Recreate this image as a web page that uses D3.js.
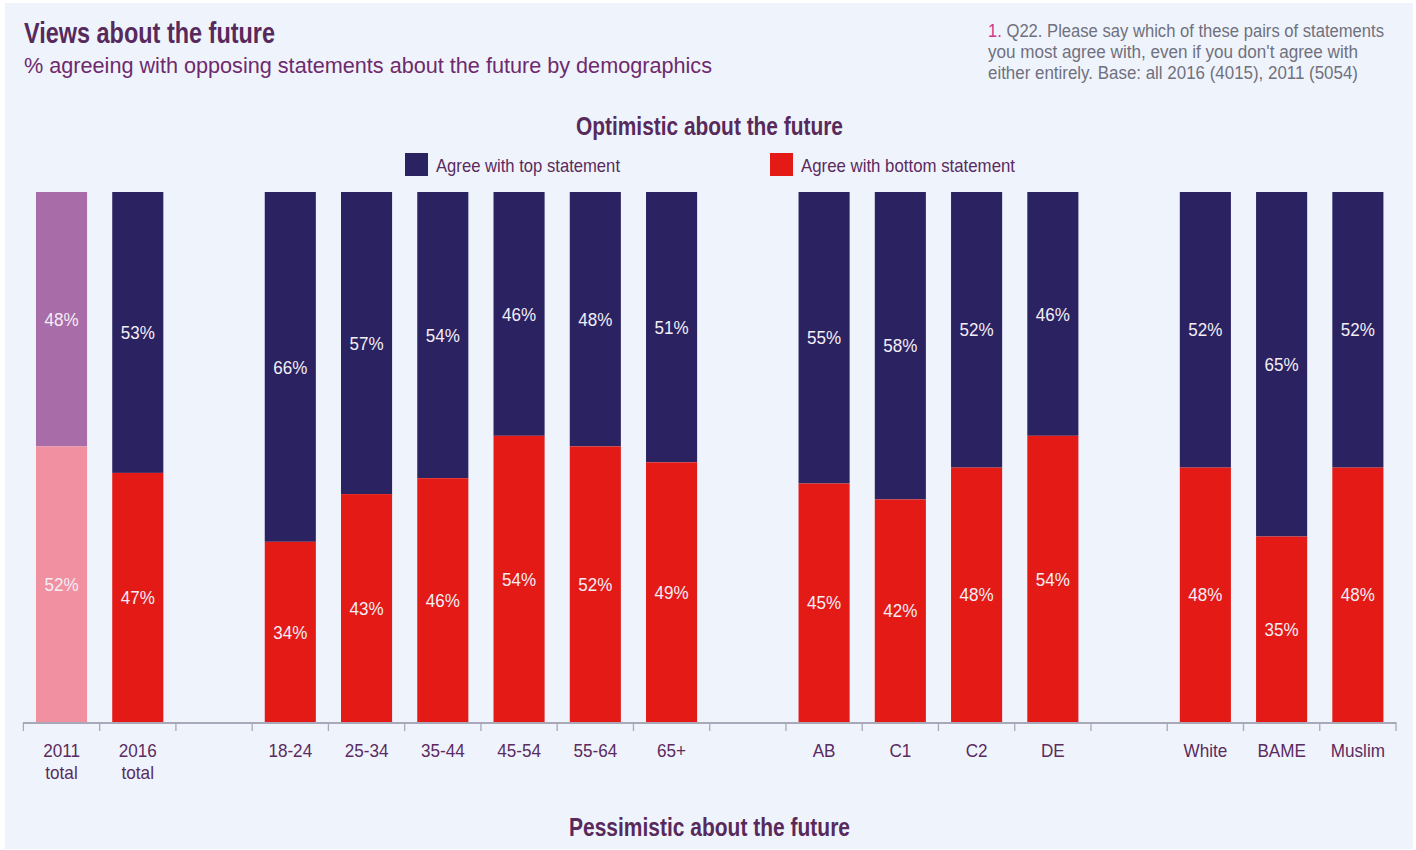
<!DOCTYPE html>
<html>
<head>
<meta charset="utf-8">
<script src="https://cdn.jsdelivr.net/npm/d3@7"></script>
<style>
  html, body { margin: 0; padding: 0; background: #ffffff; }
  svg { display: block; font-family: "Liberation Sans", Arial, sans-serif; }
</style>
</head>
<body>
<svg id="chart" width="1416" height="850"></svg>
<script>
// categories along the axis ('gap' = empty slot)
const categories = ['2011 total', '2016 total', 'gap1', '18-24', '25-34', '35-44', '45-54', '55-64', '65+',
  'gap2', 'AB', 'C1', 'C2', 'DE', 'gap3', 'White', 'BAME', 'Muslim'];
const topValues = [48, 53, null, 66, 57, 54, 46, 48, 51, null, 55, 58, 52, 46, null, 52, 65, 52];
const bottomValues = [52, 47, null, 34, 43, 46, 54, 52, 49, null, 45, 42, 48, 54, null, 48, 35, 48];
const seriesNames = ['Agree with top statement', 'Agree with bottom statement'];
const footnote = ["Q22. Please say which of these pairs of statements",
  "you  most agree with, even if you don't agree with",
  "either entirely. Base: all 2016 (4015), 2011 (5054)"];

const colors = { top: '#2b2261', bottom: '#e31a16', top2011: '#a86ca8', bottom2011: '#f090a0' };
const textPurple = '#5b2a5f';

const svg = d3.select('#chart');
const height = 850;
const margin = { top: 192, bottom: 128, left: 23.4, right: 20 };

// squeeze a text to a width (the original uses a condensed face)
function fit(sel, w) {
  sel.attr('textLength', w).attr('lengthAdjust', 'spacingAndGlyphs');
  return sel;
}
function condense(sel, f) {
  sel.each(function () {
    const len = this.getComputedTextLength();
    d3.select(this).attr('textLength', len * f).attr('lengthAdjust', 'spacingAndGlyphs');
  });
  return sel;
}

svg.append('rect').attr('x', 5).attr('y', 3).attr('width', 1408).attr('height', 846).attr('fill', '#eff4fc');

const data = categories.map((c, i) => ({ cat: c, top: topValues[i], bottom: bottomValues[i] }));

const x = d3.scaleBand()
  .domain(categories)
  .range([margin.left, 1396])
  .paddingInner(0.33)
  .paddingOuter(0.165);

const y = d3.scaleLinear().domain([0, 100]).range([height - margin.bottom, margin.top]);

// titles
fit(svg.append('text').attr('x', 24).attr('y', 43)
  .attr('font-size', 29).attr('font-weight', 'bold').attr('fill', '#582a5c')
  .text('Views about the future'), 251);
fit(svg.append('text').attr('x', 24).attr('y', 73)
  .attr('font-size', 22.5).attr('fill', '#6e2a6c')
  .text('% agreeing with opposing statements about the future by demographics'), 688);

const fn = svg.append('g').attr('font-size', 17.5).attr('fill', '#70707e');
const fnWidths = [396, 370, 370];
footnote.forEach((line, i) => {
  const t = fn.append('text').attr('x', 988).attr('y', 37 + i * 21);
  if (i === 0) t.append('tspan').attr('fill', '#d2358c').text('1. ');
  t.append('tspan').text(line);
  fit(t, fnWidths[i]);
});

fit(svg.append('text').attr('x', 576).attr('y', 135)
  .attr('font-size', 25).attr('font-weight', 'bold').attr('fill', '#582a5c')
  .text('Optimistic about the future'), 267);
fit(svg.append('text').attr('x', 569).attr('y', 836)
  .attr('font-size', 25).attr('font-weight', 'bold').attr('fill', '#582a5c')
  .text('Pessimistic about the future'), 281);

// legend
const legendX = [405, 770];
const legendW = [184, 214];
const legend = svg.append('g').selectAll('g')
  .data(seriesNames)
  .enter()
  .append('g')
  .attr('transform', (d, i) => `translate(${legendX[i]},153)`);
legend.append('rect').attr('width', 23).attr('height', 23)
  .attr('fill', (d, i) => i === 0 ? colors.top : colors.bottom);
legend.append('text').attr('x', 31).attr('y', 18.5)
  .attr('font-size', 19).attr('fill', textPurple).text(d => d)
  .attr('textLength', (d, i) => legendW[i]).attr('lengthAdjust', 'spacingAndGlyphs');

// bars
const bars = data.filter(d => d.top !== null);
const g = svg.append('g');
bars.forEach(d => {
  const is2011 = d.cat === '2011 total';
  g.append('rect')
    .attr('x', x(d.cat)).attr('width', x.bandwidth())
    .attr('y', y(100)).attr('height', y(d.bottom) - y(100))
    .attr('fill', is2011 ? colors.top2011 : colors.top);
  g.append('rect')
    .attr('x', x(d.cat)).attr('width', x.bandwidth())
    .attr('y', y(d.bottom)).attr('height', y(0) - y(d.bottom))
    .attr('fill', is2011 ? colors.bottom2011 : colors.bottom);
  [[(y(100) + y(d.bottom)) / 2, d.top], [(y(d.bottom) + y(0)) / 2, d.bottom]].forEach(([cy, v]) => {
    condense(g.append('text')
      .attr('x', x(d.cat) + x.bandwidth() / 2)
      .attr('y', cy)
      .attr('dy', '0.36em').attr('text-anchor', 'middle')
      .attr('font-size', 18.5).attr('fill', '#f4eef6')
      .text(v + '%'), 0.92);
  });
});

// axis
const axisY = y(0);
const step = x.step();
const tickXs = categories.map(c => x(c) - step * x.paddingInner() / 2);
tickXs.push(x(categories[categories.length - 1]) + x.bandwidth() + step * x.paddingInner() / 2);
const axis = svg.append('g').attr('stroke', '#a8a8b8');
axis.append('line').attr('x1', tickXs[0]).attr('x2', tickXs[tickXs.length - 1])
  .attr('y1', axisY + 1).attr('y2', axisY + 1).attr('stroke-width', 2);
axis.selectAll('line.tick').data(tickXs).enter().append('line')
  .attr('class', 'tick')
  .attr('x1', d => d).attr('x2', d => d)
  .attr('y1', axisY).attr('y2', axisY + 9).attr('stroke-width', 1.3);

const labels = svg.append('g').attr('font-size', 19).attr('fill', textPurple).attr('text-anchor', 'middle');
categories.filter(c => !c.startsWith('gap')).forEach(c => {
  c.split(' ').forEach((w, i) => {
    condense(labels.append('text')
      .attr('x', x(c) + x.bandwidth() / 2)
      .attr('y', axisY + 35 + i * 22)
      .text(w), 0.9);
  });
});
</script>
</body>
</html>
